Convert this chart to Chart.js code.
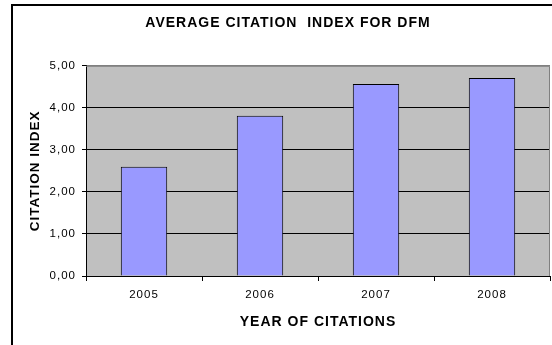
<!DOCTYPE html>
<html>
<head>
<meta charset="utf-8">
<script src="https://cdn.jsdelivr.net/npm/chart.js@4"></script>
<style>
    body { margin: 0; background: #fff; overflow: hidden; }
    #wrap { width: 552px; height: 345px; }
</style>
</head>
<body>
<div id="wrap"><canvas id="citationChart" width="552" height="345"></canvas></div>
<script>
// Chart data
const years = ['2005', '2006', '2007', '2008'];
const citationIndex = [2.60, 3.81, 4.57, 4.71];
const yTicks = [0, 1, 2, 3, 4, 5];

const FONT = 'Liberation Sans, Arial, sans-serif';

// frame, plot background and letter spacing
const framePlugin = {
    id: 'frame',
    beforeUpdate(chart) {
        chart.ctx.letterSpacing = '1px';
    },
    beforeDraw(chart) {
        const ctx = chart.ctx;
        const area = chart.chartArea;
        ctx.save();
        ctx.fillStyle = '#fff';
        ctx.fillRect(0, 0, chart.width, chart.height);
        // outer border (only left and top are visible)
        ctx.fillStyle = '#000';
        ctx.fillRect(11, 4, 2, chart.height - 4);
        ctx.fillRect(11, 4, chart.width - 11, 2);
        // plot area
        ctx.fillStyle = '#C0C0C0';
        ctx.fillRect(area.left, area.top, area.right - area.left, area.bottom - area.top);
        ctx.restore();
        ctx.letterSpacing = '1px';
    },
    afterDatasetsDraw(chart) {
        const ctx = chart.ctx;
        const area = chart.chartArea;
        ctx.save();
        ctx.strokeStyle = '#808080';
        ctx.lineWidth = 1;
        ctx.beginPath();
        ctx.moveTo(area.left, area.top + 0.5);
        ctx.lineTo(area.right - 0.5, area.top + 0.5);
        ctx.lineTo(area.right - 0.5, area.bottom);
        ctx.stroke();
        ctx.restore();
    }
};

const chart = new Chart(document.getElementById('citationChart'), {
    type: 'bar',
    data: {
        labels: years,
        datasets: [{
            label: 'Citation index',
            data: citationIndex,
            backgroundColor: '#9999FF',
            borderColor: '#000',
            borderWidth: 1,
            barPercentage: 0.4,
            categoryPercentage: 1.0
        }]
    },
    options: {
        responsive: false,
        animation: false,
        layout: { padding: { left: 26, right: 2, top: 0, bottom: 0 } },
        plugins: {
            legend: { display: false },
            tooltip: { enabled: false },
            title: {
                display: true,
                text: 'AVERAGE CITATION  INDEX FOR DFM',
                color: '#000',
                font: { family: FONT, size: 14, weight: 'bold', lineHeight: 1.2 },
                padding: { top: 15, bottom: 34 }
            }
        },
        scales: {
            x: {
                afterFit(scale) { scale.height = 69; },
                grid: {
                    offset: true,
                    drawOnChartArea: false,
                    color: '#000',
                    tickLength: 5
                },
                border: { color: '#000', width: 1 },
                ticks: {
                    color: '#000',
                    padding: 7,
                    font: { family: FONT, size: 11.5 }
                },
                title: {
                    display: true,
                    text: 'YEAR OF CITATIONS',
                    color: '#000',
                    font: { family: FONT, size: 14, weight: 'bold', lineHeight: 1.2 },
                    padding: { top: 0, bottom: 14 }
                }
            },
            y: {
                min: 0,
                max: 5,
                afterFit(scale) { scale.width = 60; },
                afterBuildTicks(scale) {
                    scale.ticks = yTicks.map(v => ({ value: v }));
                },
                grid: {
                    color: ctx => (ctx.tick && ctx.tick.value === 5) ? '#808080' : '#000',
                    tickColor: '#000',
                    tickLength: 4,
                    lineWidth: 1
                },
                border: { color: '#000', width: 1 },
                ticks: {
                    color: '#000',
                    padding: 6,
                    font: { family: FONT, size: 11.5 },
                    callback: value => value.toFixed(2).replace('.', ',')
                },
                title: {
                    display: true,
                    text: 'CITATION INDEX',
                    color: '#000',
                    font: { family: FONT, size: 13.5, weight: 'bold', lineHeight: 1.2 },
                    padding: { top: 1, bottom: 0 }
                }
            }
        }
    },
    plugins: [framePlugin]
});
</script>
</body>
</html>
